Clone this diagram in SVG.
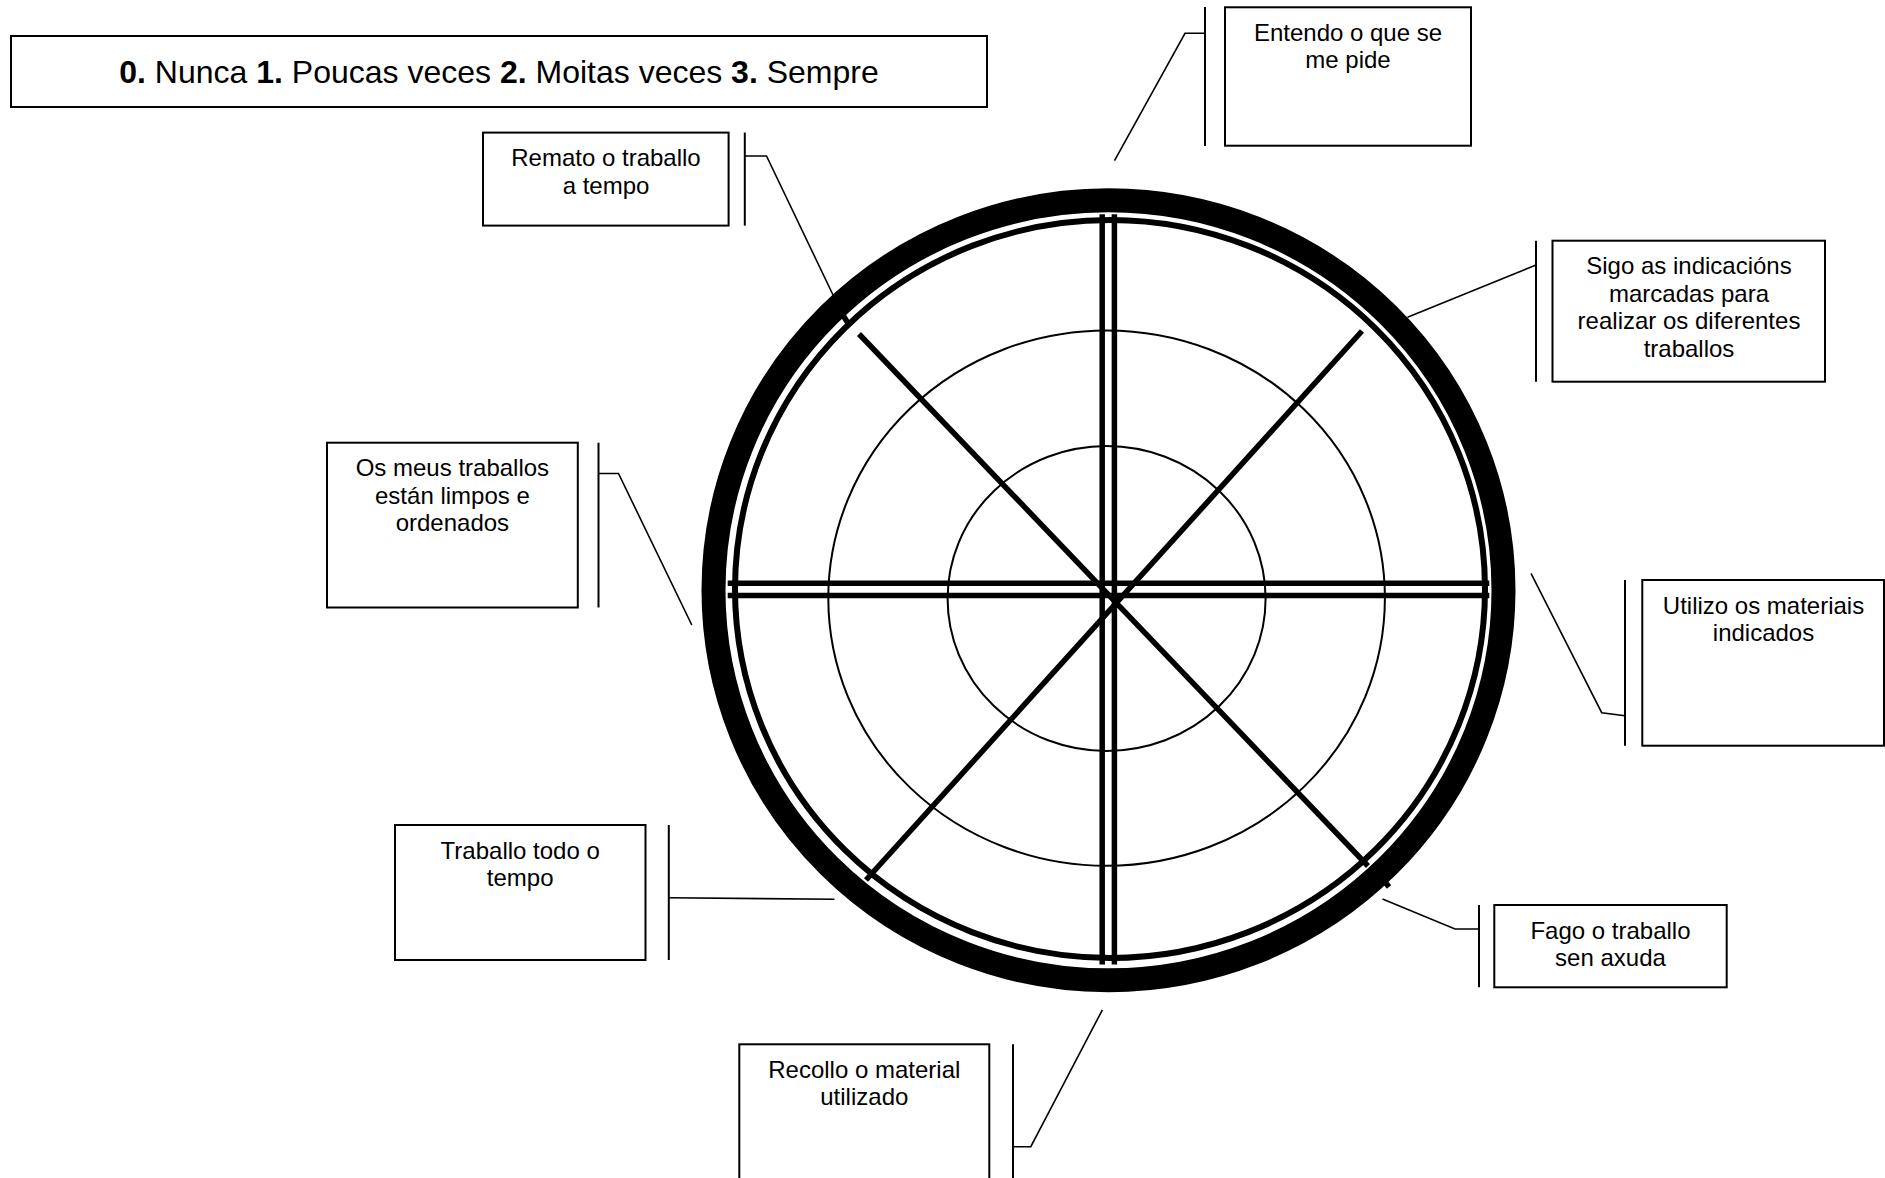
<svg xmlns="http://www.w3.org/2000/svg" width="1885" height="1178" viewBox="0 0 1885 1178">
<style>
  .box { fill: #fff; stroke: #000; stroke-width: 2; }
  .bar { stroke: #000; stroke-width: 2; fill: none; }
  .con { stroke: #000; stroke-width: 1.6; fill: none; }
  .lbl { font-family: "Liberation Sans", Arial, sans-serif; font-size: 24px; fill: #000; text-anchor: middle; }
  .title { font-family: "Liberation Sans", Arial, sans-serif; font-size: 32px; fill: #000; text-anchor: middle; }
  .spoke { stroke: #000; stroke-width: 5.5; fill: none; }
  .ring { fill: none; stroke: #000; stroke-width: 2; }
</style>
<rect width="1885" height="1178" fill="#fff"/>

<g id="title">
  <rect class="box" x="11" y="36" width="976" height="71"/>
  <text class="title" x="499" y="83"><tspan font-weight="bold">0.</tspan> Nunca <tspan font-weight="bold">1.</tspan> Poucas veces <tspan font-weight="bold">2.</tspan> Moitas veces <tspan font-weight="bold">3.</tspan> Sempre</text>
</g>

<g id="connectors">
  <polyline class="con" points="1205,33.3 1185,33.3 1114.5,160.7"/>
  <polyline class="con" points="1536,265 1407.5,317.3"/>
  <polyline class="con" points="744.8,156 766.5,156 834,297"/>
  <polyline class="con" points="598.5,473.5 618.5,473.5 691.8,625"/>
  <polyline class="con" points="1625,715.7 1601.7,712.7 1531,573.3"/>
  <polyline class="con" points="1479,929 1455,929 1382.5,899"/>
  <polyline class="con" points="668.8,897.7 834.4,899.3"/>
  <polyline class="con" points="1013,1146.7 1030.8,1146.7 1102.4,1009.8"/>
</g>

<g id="wheel">
  <ellipse class="ring" cx="1106.6" cy="598.5" rx="159" ry="152.5"/>
  <ellipse class="ring" cx="1106.6" cy="598.1" rx="278.3" ry="267.7"/>
  <line class="spoke" x1="859" y1="334" x2="1368" y2="866"/>
  <line class="spoke" x1="1362" y1="331" x2="866" y2="880"/>
  <line class="spoke" stroke-width="3" x1="843.5" y1="316" x2="847.5" y2="322.5"/>
  <line class="spoke" stroke-width="3" x1="1378" y1="873" x2="1389" y2="887"/>
  <line class="spoke" stroke-width="5" x1="1102.2" y1="214.3" x2="1102.2" y2="964.5"/>
  <line class="spoke" stroke-width="5" x1="1114.4" y1="214.3" x2="1114.4" y2="964.5"/>
  <line class="spoke" x1="727.7" y1="583.2" x2="1489.3" y2="583.2"/>
  <line class="spoke" x1="727.7" y1="595.5" x2="1489.3" y2="595.5"/>
  <ellipse fill="none" stroke="#000" stroke-width="6" cx="1110" cy="589" rx="375" ry="369"/>
  <ellipse fill="none" stroke="#000" stroke-width="24" cx="1108.5" cy="590.3" rx="395" ry="390"/>
</g>

<g id="node-entendo">
  <line class="bar" x1="1205" y1="7" x2="1205" y2="146"/>
  <rect class="box" x="1225" y="7.3" width="246" height="138.4"/>
  <text class="lbl" x="1348" y="40.8"><tspan x="1348">Entendo o que se</tspan><tspan x="1348" dy="27.6">me pide</tspan></text>
</g>

<g id="node-sigo">
  <line class="bar" x1="1536" y1="240.7" x2="1536" y2="381.7"/>
  <rect class="box" x="1552.5" y="240.7" width="272.5" height="141"/>
  <text class="lbl" x="1689" y="274.2"><tspan x="1689">Sigo as indicacións</tspan><tspan x="1689" dy="27.6">marcadas para</tspan><tspan x="1689" dy="27.6">realizar os diferentes</tspan><tspan x="1689" dy="27.6">traballos</tspan></text>
</g>

<g id="node-remato">
  <line class="bar" x1="744.8" y1="132.6" x2="744.8" y2="225.6"/>
  <rect class="box" x="483" y="132.6" width="245.6" height="93"/>
  <text class="lbl" x="606" y="166.1"><tspan x="606">Remato o traballo</tspan><tspan x="606" dy="27.6">a tempo</tspan></text>
</g>

<g id="node-limpos">
  <line class="bar" x1="598.5" y1="442.7" x2="598.5" y2="607.5"/>
  <rect class="box" x="327" y="442.7" width="250.8" height="164.8"/>
  <text class="lbl" x="452.4" y="476.2"><tspan x="452.4">Os meus traballos</tspan><tspan x="452.4" dy="27.6">están limpos e</tspan><tspan x="452.4" dy="27.6">ordenados</tspan></text>
</g>

<g id="node-utilizo">
  <line class="bar" x1="1625" y1="580" x2="1625" y2="745.7"/>
  <rect class="box" x="1642.3" y="580" width="241.7" height="165.7"/>
  <text class="lbl" x="1763.5" y="613.5"><tspan x="1763.5">Utilizo os materiais</tspan><tspan x="1763.5" dy="27.6">indicados</tspan></text>
</g>

<g id="node-fago">
  <line class="bar" x1="1479" y1="905" x2="1479" y2="987.3"/>
  <rect class="box" x="1494.3" y="905" width="232.4" height="82.3"/>
  <text class="lbl" x="1610.5" y="938.5"><tspan x="1610.5">Fago o traballo</tspan><tspan x="1610.5" dy="27.6">sen axuda</tspan></text>
</g>

<g id="node-traballo">
  <line class="bar" x1="668.8" y1="825" x2="668.8" y2="960"/>
  <rect class="box" x="395" y="825" width="250.5" height="135"/>
  <text class="lbl" x="520.2" y="858.5"><tspan x="520.2">Traballo todo o</tspan><tspan x="520.2" dy="27.6">tempo</tspan></text>
</g>

<g id="node-recollo">
  <line class="bar" x1="1013" y1="1044.3" x2="1013" y2="1180"/>
  <rect class="box" x="739.3" y="1044.3" width="250" height="160"/>
  <text class="lbl" x="864.3" y="1077.8"><tspan x="864.3">Recollo o material</tspan><tspan x="864.3" dy="27.6">utilizado</tspan></text>
</g>
</svg>
